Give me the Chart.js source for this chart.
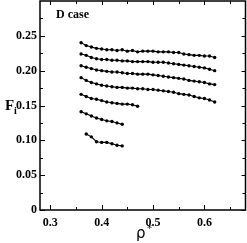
<!DOCTYPE html>
<html>
<head>
<meta charset="utf-8">
<script src="https://cdn.jsdelivr.net/npm/chart.js@4/dist/chart.umd.min.js"></script>
<style>
html,body{margin:0;padding:0;background:#fff;}
#c{display:block;}
</style>
</head>
<body>
<canvas id="c" width="247" height="243"></canvas>
<script>
// Data
const xLong = [0.36,0.37,0.38,0.39,0.40,0.41,0.42,0.43,0.44,0.45,0.46,0.47,0.48,0.49,0.50,0.51,0.52,0.53,0.54,0.55,0.56,0.57,0.58,0.59,0.60,0.61,0.62];
const x5 = [0.36,0.37,0.38,0.39,0.40,0.41,0.42,0.43,0.44,0.45,0.46,0.47];
const x6 = [0.36,0.37,0.38,0.39,0.40,0.41,0.42,0.43,0.44];
const x7 = [0.37,0.38,0.39,0.40,0.41,0.42,0.43,0.44];

const s1 = [0.240,0.236,0.234,0.232,0.231,0.230,0.230,0.229,0.230,0.228,0.229,0.227,0.228,0.228,0.228,0.227,0.227,0.227,0.226,0.226,0.224,0.223,0.222,0.222,0.221,0.221,0.219];
const s2 = [0.224,0.222,0.219,0.217,0.216,0.216,0.215,0.215,0.214,0.214,0.213,0.213,0.213,0.213,0.212,0.212,0.212,0.211,0.210,0.209,0.208,0.207,0.206,0.205,0.204,0.202,0.200];
const s3 = [0.207,0.205,0.203,0.201,0.200,0.199,0.198,0.198,0.197,0.196,0.196,0.195,0.195,0.195,0.194,0.193,0.192,0.191,0.190,0.189,0.188,0.186,0.185,0.184,0.183,0.181,0.180];
const s4 = [0.190,0.186,0.183,0.181,0.179,0.178,0.177,0.176,0.176,0.175,0.175,0.174,0.174,0.173,0.173,0.172,0.171,0.170,0.169,0.167,0.166,0.165,0.163,0.161,0.160,0.158,0.155];
const s5 = [0.166,0.163,0.160,0.159,0.157,0.155,0.154,0.153,0.152,0.152,0.151,0.149];
const s6 = [0.141,0.138,0.135,0.132,0.130,0.128,0.127,0.125,0.123];
const s7 = [0.109,0.105,0.098,0.097,0.097,0.095,0.093,0.092];

const xMajorTicks = [0.3,0.4,0.5,0.6];
const xMinorTicks = [0.35,0.45,0.55,0.65];
const yMajorTicks = [0,0.05,0.10,0.15,0.20,0.25];
const yMinorTicks = [0.025,0.075,0.125,0.175,0.225,0.275];

const caseLabel = "D case";
const yTitleMain = "F";
const yTitleSub = "i";
const xTitleMain = "ρ";
const xTitleSup = "*";

function pts(xs, ys){ return xs.map((x,i)=>({x:x,y:ys[i]})); }
function ds(xs, ys){
  return {data:pts(xs,ys), borderColor:'#000', backgroundColor:'#000', borderWidth:1.1,
    pointRadius:1.7, pointHoverRadius:1.7, pointBorderWidth:0, pointBackgroundColor:'#000', tension:0, showLine:true, fill:false};
}

const serifBold = (s)=>'bold '+s+'px "Liberation Serif", "Times New Roman", serif';

const framePlugin = {
  id:'frame',
  beforeDraw(chart){
    const ctx = chart.ctx;
    ctx.save(); ctx.fillStyle='#fff'; ctx.fillRect(0,0,chart.width,chart.height); ctx.restore();
  },
  afterDraw(chart){
    const ctx = chart.ctx, a = chart.chartArea;
    const xs = chart.scales.x, ys = chart.scales.y;
    ctx.save();
    ctx.strokeStyle='#000';
    ctx.lineWidth=1;
    const tick = (x1,y1,x2,y2)=>{ctx.beginPath();ctx.moveTo(x1,y1);ctx.lineTo(x2,y2);ctx.stroke();};
    xMajorTicks.forEach(v=>{const p=Math.round(xs.getPixelForValue(v))+0.5; tick(p,a.bottom,p,a.bottom-5); tick(p,a.top,p,a.top+4);});
    xMinorTicks.forEach(v=>{const p=Math.round(xs.getPixelForValue(v))+0.5; tick(p,a.bottom,p,a.bottom-3); tick(p,a.top,p,a.top+3);});
    yMajorTicks.forEach(v=>{const p=Math.round(ys.getPixelForValue(v))+0.5; tick(a.left,p,a.left+5,p); tick(a.right,p,a.right-4,p);});
    yMinorTicks.forEach(v=>{const p=Math.round(ys.getPixelForValue(v))+0.5; tick(a.left,p,a.left+3,p); tick(a.right,p,a.right-3,p);});
    ctx.lineWidth=1.5;
    ctx.strokeRect(a.left,a.top,a.right-a.left,a.bottom-a.top);
    // texts
    ctx.fillStyle='#000';
    ctx.textBaseline='alphabetic';
    ctx.textAlign='left';
    ctx.font=serifBold(12);
    ctx.fillText(caseLabel, a.left+16, 18);
    ctx.font=serifBold(15);
    ctx.fillText(yTitleMain, 5, 110);
    ctx.font=serifBold(10);
    ctx.fillText(yTitleSub, 14, 114);
    ctx.font='15px "DejaVu Sans", sans-serif';
    ctx.fillText(xTitleMain, 136, 238);
    ctx.font='10px "DejaVu Sans", sans-serif';
    ctx.fillText(xTitleSup, 147, 232);
    ctx.restore();
  }
};

new Chart(document.getElementById('c'), {
  type:'scatter',
  data:{datasets:[ds(xLong,s1),ds(xLong,s2),ds(xLong,s3),ds(xLong,s4),ds(x5,s5),ds(x6,s6),ds(x7,s7)]},
  options:{
    responsive:false, animation:false, devicePixelRatio:1,
    layout:{autoPadding:false, padding:{top:1,right:1.5,left:0,bottom:0}},
    plugins:{legend:{display:false},tooltip:{enabled:false}},
    scales:{
      x:{type:'linear',min:0.28,max:0.68,
        grid:{display:false,drawTicks:false,tickLength:0}, border:{display:false},
        afterBuildTicks:(s)=>{s.ticks = xMajorTicks.map(v=>({value:v}));},
        ticks:{autoSkip:false,color:'#000',font:{family:'"Liberation Serif", serif',weight:'bold',size:12},padding:6,maxRotation:0,
          callback:(v)=>Number(v).toFixed(1)},
        afterFit:(s)=>{s.height=33; s.paddingLeft=0; s.paddingRight=0;}
      },
      y:{type:'linear',min:0,max:0.30,
        grid:{display:false,drawTicks:false,tickLength:0}, border:{display:false},
        afterBuildTicks:(s)=>{s.ticks = yMajorTicks.map(v=>({value:v}));},
        ticks:{autoSkip:false,color:'#000',font:{family:'"Liberation Serif", serif',weight:'bold',size:12},padding:3,
          callback:(v)=>Math.abs(v)<1e-9?'0':Number(v).toFixed(2)},
        afterFit:(s)=>{s.width=40; s.paddingTop=0; s.paddingBottom=0;}
      }
    }
  },
  plugins:[framePlugin]
});
</script>
</body>
</html>
